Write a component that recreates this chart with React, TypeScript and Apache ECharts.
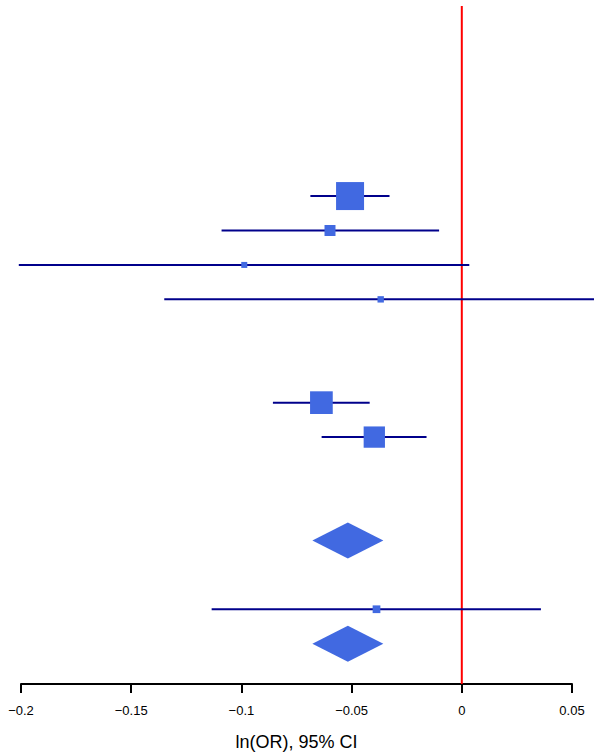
import React, { useEffect, useRef } from "react";
import * as echarts from "echarts";

// Study rows (row number counted from bottom) and estimates, ln(OR)
const studyRows = [14, 13, 12, 11, 8, 7, 2];
const studyEst = [-0.0507, -0.0598, -0.0987, -0.0368, -0.0637, -0.0397, -0.0387];
const studyLower = [-0.0687, -0.109, -0.201, -0.135, -0.0857, -0.0636, -0.1135];
const studyUpper = [-0.0328, -0.0103, 0.0034, 0.065, -0.0418, -0.016, 0.0359];
const studyWeight = [100, 15.4, 4.6, 5.2, 65.7, 57.9, 7.6];

// Pooled estimates (diamonds)
const summaryRows = [4, 1];
const summaryEst = [-0.0517, -0.0517];
const summaryLower = [-0.0678, -0.0678];
const summaryUpper = [-0.0356, -0.0356];

const xTicks = [-0.2, -0.15, -0.1, -0.05, 0, 0.05];
const xTitle = "ln(OR), 95% CI";

const FONT = "'Liberation Sans', Arial, Helvetica, sans-serif";

export default function App() {
  const ref = useRef<HTMLDivElement>(null);
  useEffect(() => {
    if (!ref.current) return;
    const chart = echarts.init(ref.current, undefined, { renderer: "svg" });
    const studyData = studyRows.map((r, i) => [studyEst[i], r, studyLower[i], studyUpper[i], studyWeight[i]]);
    const summaryData = summaryRows.map((r, i) => [summaryEst[i], r, summaryLower[i], summaryUpper[i]]);
    chart.setOption({
      animation: false,
      backgroundColor: "#ffffff",
      grid: { left: 21, right: 22, top: 6, bottom: 69 },
      xAxis: {
        type: "value",
        min: xTicks[0],
        max: xTicks[xTicks.length - 1],
        interval: 0.05,
        splitLine: { show: false },
        axisLine: { show: true, onZero: false, lineStyle: { color: "#000", width: 2 } },
        axisTick: { show: true, length: 9, lineStyle: { color: "#000", width: 2 } },
        axisLabel: {
          color: "#000",
          fontSize: 13,
          fontFamily: FONT,
          margin: 20,
          formatter: (v: number) => {
            const s = String(Math.round(v * 100) / 100);
            return s.replace("-", "\u2212");
          },
        },
        name: xTitle,
        nameLocation: "middle",
        nameGap: 49,
        nameTextStyle: { color: "#000", fontSize: 18, fontFamily: FONT },
      },
      yAxis: {
        type: "value",
        min: -0.171,
        max: 19.52,
        show: false,
      },
      series: [
        {
          type: "custom",
          clip: false,
          data: studyData,
          renderItem: (params: any, api: any) => {
            const est = api.value(0);
            const row = api.value(1);
            const lo = api.value(2);
            const hi = api.value(3);
            const w = api.value(4);
            const p = api.coord([est, row]);
            const pl = api.coord([lo, row]);
            const ph = api.coord([hi, row]);
            const size = 2.8 * Math.sqrt(w);
            return {
              type: "group",
              children: [
                {
                  type: "line",
                  shape: { x1: pl[0], y1: pl[1], x2: ph[0], y2: ph[1] },
                  style: { stroke: "#00008B", lineWidth: 2 },
                },
                {
                  type: "rect",
                  shape: { x: p[0] - size / 2, y: p[1] - size / 2, width: size, height: size },
                  style: { fill: "#4169E1" },
                },
              ],
            };
          },
          z: 3,
        },
        {
          type: "custom",
          clip: false,
          data: summaryData,
          renderItem: (params: any, api: any) => {
            const est = api.value(0);
            const row = api.value(1);
            const lo = api.value(2);
            const hi = api.value(3);
            const p = api.coord([est, row]);
            const pl = api.coord([lo, row]);
            const ph = api.coord([hi, row]);
            const h = 18;
            return {
              type: "polygon",
              shape: {
                points: [
                  [pl[0], p[1]],
                  [p[0], p[1] - h],
                  [ph[0], p[1]],
                  [p[0], p[1] + h],
                ],
              },
              style: { fill: "#4169E1" },
            };
          },
          z: 3,
        },
        {
          type: "custom",
          clip: false,
          data: [[0]],
          renderItem: (params: any, api: any) => {
            const top = api.coord([api.value(0), 19.52]);
            const bot = api.coord([api.value(0), -0.171]);
            return {
              type: "line",
              shape: { x1: top[0], y1: top[1], x2: bot[0], y2: bot[1] },
              style: { stroke: "#FF0000", lineWidth: 2 },
            };
          },
          z: 2,
        },
      ],
    });
    return () => chart.dispose();
  }, []);
  return (
    <div
      ref={ref}
      style={{ position: "fixed", left: 0, top: 0, width: 594, height: 756, background: "#fff" }}
    />
  );
}
